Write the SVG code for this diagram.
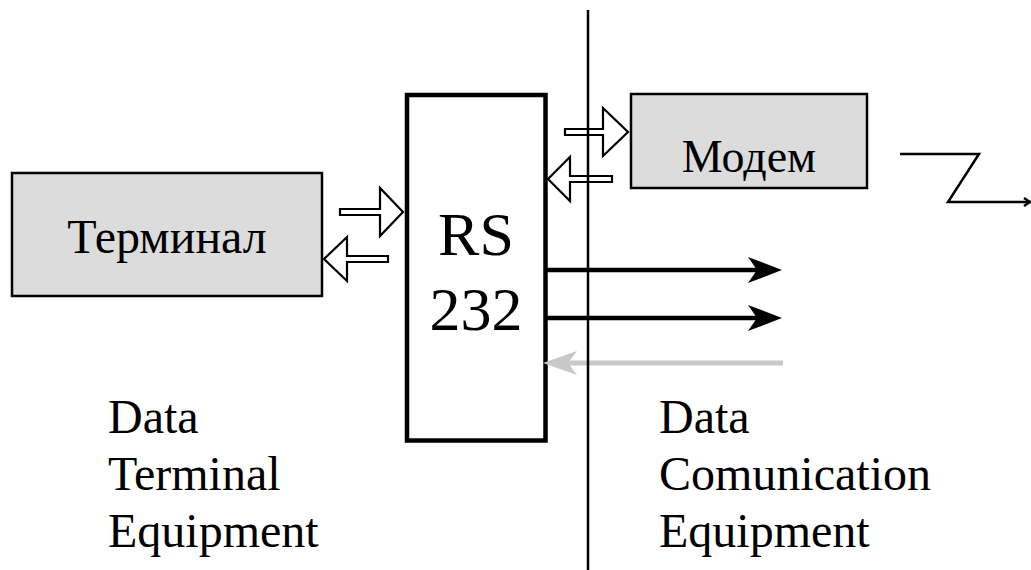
<svg xmlns="http://www.w3.org/2000/svg" width="1031" height="570" viewBox="0 0 1031 570">
  <style>
    .box { fill: #dcdcdc; stroke: #000; stroke-width: 2.5; }
    .iface { fill: #fff; stroke: #000; stroke-width: 4.5; }
    .lbl { font-family: "Liberation Serif", "Times New Roman", serif; fill: #000; }
    .hollow { fill: #fff; stroke: #000; stroke-width: 2.2; stroke-linejoin: miter; }
    .sig { stroke: #000; stroke-width: 4.5; fill: none; }
    .sig-in { stroke: #c8c8c8; stroke-width: 5; fill: none; }
    .thin { stroke: #000; stroke-width: 2.5; fill: none; }
  </style>
  <rect width="1031" height="570" fill="#fff"/>

  <g id="terminal">
    <rect class="box" x="12" y="173" width="310" height="123"/>
    <text class="lbl" x="167" y="253" font-size="48" text-anchor="middle">Терминал</text>
  </g>

  <g id="rs232">
    <rect class="iface" x="407" y="95" width="138.5" height="345.5"/>
    <text class="lbl" x="476" y="255" font-size="62" text-anchor="middle">RS</text>
    <text class="lbl" x="476" y="330" font-size="62" text-anchor="middle">232</text>
  </g>

  <g id="modem">
    <rect class="box" x="631" y="94" width="236" height="94"/>
    <text class="lbl" x="749" y="172" font-size="46" text-anchor="middle">Модем</text>
  </g>

  <g id="dte-label">
    <text class="lbl" font-size="48" x="108" y="433">Data</text>
    <text class="lbl" font-size="48" x="108" y="490">Terminal</text>
    <text class="lbl" font-size="48" x="108" y="547">Equipment</text>
  </g>

  <g id="dce-label">
    <text class="lbl" font-size="48" x="659" y="433">Data</text>
    <text class="lbl" font-size="48" x="659" y="490">Comunication</text>
    <text class="lbl" font-size="48" x="659" y="547">Equipment</text>
  </g>

  <g id="connectors">
    <!-- data flow between terminal and interface -->
    <polygon class="hollow" points="340,209 380,209 380,188 403,212 380,236 380,215 340,215"/>
    <polygon class="hollow" points="388,256 347,256 347,237 324,259 347,281 347,262 388,262"/>
    <!-- data flow between interface and modem -->
    <polygon class="hollow" points="565,129 603,129 603,108 628,132 603,156 603,135 565,135"/>
    <polygon class="hollow" points="612,176 570,176 570,157 548,179 570,201 570,182 612,182"/>

    <!-- control lines -->
    <line class="sig" x1="545" y1="270" x2="758" y2="270"/>
    <polygon points="782,270 748,257 757,270 748,283" fill="#000"/>
    <line class="sig" x1="545" y1="318" x2="758" y2="318"/>
    <polygon points="782,318 748,305 757,318 748,331" fill="#000"/>
    <line class="sig-in" x1="783" y1="363" x2="566" y2="363"/>
    <polygon points="543,363 577,351 568,363 577,375" fill="#c8c8c8"/>

    <!-- DTE / DCE boundary -->
    <line class="thin" x1="588" y1="10" x2="588" y2="570"/>

    <!-- line to the remote side -->
    <polyline class="thin" points="900,154 979,154 948,202 1031,202"/>
    <polyline class="thin" points="1024,198 1030,202 1024,206" stroke-width="1.5"/>
  </g>
</svg>
